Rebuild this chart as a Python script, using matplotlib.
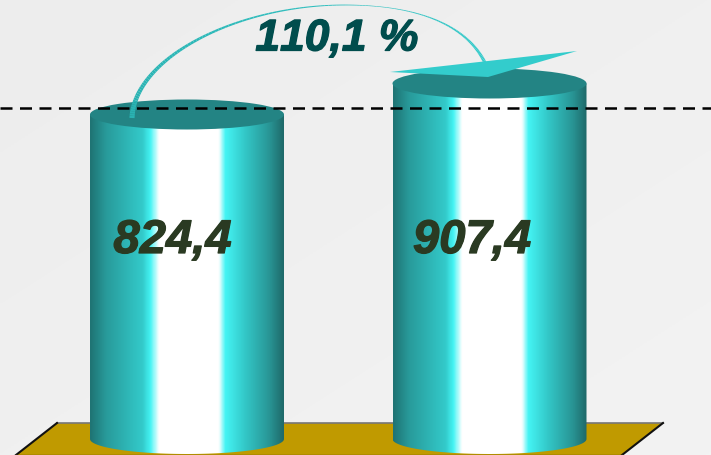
import numpy as np
import matplotlib
matplotlib.use("Agg")
import matplotlib.pyplot as plt
import matplotlib.patheffects as pe
from matplotlib.collections import LineCollection
from matplotlib.colors import LinearSegmentedColormap, to_rgb
from matplotlib.patches import Ellipse, PathPatch, Polygon
from matplotlib.path import Path

# no pair kerning, the "11" would run together otherwise
plt.rcParams["text.kerning_factor"] = 6

values = [824.4, 907.4]
value_labels = ["824,4", "907,4"]
ratio_label = "110,1 %"

# the value axis is hidden, x runs in pixels
px_per_unit = 31 / (values[1] - values[0])
zero_px = 115.5 + values[0] * px_per_unit


def v(p):
    # pixel row -> value
    return (zero_px - p) / px_per_unit


fig = plt.figure(figsize=(7.11, 4.56), dpi=100)
ax = fig.add_axes([0, 0, 1, 1])
ax.axis("off")

# background
xx, yy = np.meshgrid(np.linspace(0, 1, 200), np.linspace(0, 1, 200))
ax.imshow(0.5 * xx + 0.5 * yy, extent=(0, 711, v(456), v(0)), origin="upper",
          cmap=LinearSegmentedColormap.from_list("bg", ["#ededed", "#f3f3f3"]),
          aspect="auto", zorder=0)

# floor
ax.add_patch(Polygon([(57, v(424)), (663, v(424)), (622, v(456)), (16, v(456))],
                     facecolor="#c09a00", edgecolor="none", zorder=1))
ax.plot([57, 663], [v(424), v(424)], color="#777777", lw=1.2, zorder=1.5)
ax.plot([57, 16], [v(424), v(456)], color="#111111", lw=1.5, zorder=1.5)
ax.plot([663, 622], [v(424), v(456)], color="#111111", lw=1.5, zorder=1.5)
ax.plot([16, 622], [v(455.5), v(455.5)], color="#6e5800", lw=1, zorder=1.5)

# cylinders
centers = [187, 489.5]
label_shift = [-14.5, -17.5]
half_w = 97
ell_h = 15
base_px = 440
stops = [(0.0, "#1f7474"), (0.08, "#289a9a"), (0.27, "#33caca"), (0.31, "#44f4f4"),
         (0.355, "#ffffff"), (0.665, "#ffffff"), (0.70, "#44f4f4"), (0.80, "#33c8c8"),
         (0.93, "#289494"), (1.0, "#1f6a6a")]
body_cmap = LinearSegmentedColormap.from_list("body", stops)
t = np.linspace(0, np.pi, 80)

for cx, val, label, shift in zip(centers, values, value_labels, label_shift):
    top_px = zero_px - val * px_per_unit

    # outline: along the top edge, then round the bottom ellipse
    xs = np.r_[cx - half_w, cx + half_w, cx + half_w * np.cos(t)]
    ys = np.r_[top_px, top_px, base_px + ell_h * np.sin(t)]
    clip = PathPatch(Path(np.c_[xs, v(ys)]), transform=ax.transData,
                     facecolor="none", edgecolor="none")
    ax.add_patch(clip)
    im = ax.imshow(np.linspace(0, 1, 400)[None, :], cmap=body_cmap, aspect="auto",
                   extent=(cx - half_w, cx + half_w, v(456), v(0)), zorder=2)
    im.set_clip_path(clip)

    ax.add_patch(Ellipse((cx, val), 2 * half_w, 2 * ell_h / px_per_unit,
                         facecolor="#238484", edgecolor="none", zorder=3))
    ax.text(cx + shift, v(242), label, ha="center", va="center", fontsize=34,
            family="Liberation Sans", fontweight="bold", fontstyle="italic",
            color="#2a3a22", zorder=6,
            path_effects=[pe.withStroke(linewidth=0.9, foreground="#2a3a22")])

# dashed reference line
ax.plot([0, 711], [v(108.5), v(108.5)], color="black", lw=1.8, dashes=(4.8, 3.0), zorder=4)


# arc between the tops, thin in the middle
def bezier(p0, p1, p2, p3, n=80):
    s = np.linspace(0, 1, n)[:, None]
    p0, p1, p2, p3 = map(np.array, (p0, p1, p2, p3))
    return (1 - s) ** 3 * p0 + 3 * (1 - s) ** 2 * s * p1 + 3 * (1 - s) * s ** 2 * p2 + s ** 3 * p3


arc = np.vstack([bezier((132, 119), (134, 60), (235, 6), (345, 6)),
                 bezier((345, 6), (425, 6), (470, 30), (486, 66))])
arc[:, 1] = v(arc[:, 1])
pos = np.linspace(0, 1, len(arc) - 1)
widths = 0.4 + 3.3 * np.abs(pos - 0.58) ** 1.5 / 0.58 ** 1.5
c0, c1 = np.array(to_rgb("#2ab2b2")), np.array(to_rgb("#33cccc"))
colors = [c0 + (c1 - c0) * p for p in pos]
segs = np.stack([arc[:-1], arc[1:]], axis=1)
ax.add_collection(LineCollection(segs, linewidths=widths, colors=colors,
                                 capstyle="butt", zorder=5))

# arrow head
ax.add_patch(Polygon([(390, v(73)), (577, v(52)), (488, v(78))],
                     facecolor="#33cccc", edgecolor="none", zorder=5))

ax.text(337, v(40), ratio_label, ha="center", va="center", fontsize=32,
        family="Liberation Sans", fontweight="bold", fontstyle="italic",
        color="#004d4d", zorder=6,
        path_effects=[pe.withStroke(linewidth=0.9, foreground="#004d4d")])

ax.set_xlim(0, 711)
ax.set_ylim(v(456), v(0))

plt.savefig("out.png", dpi=100)
